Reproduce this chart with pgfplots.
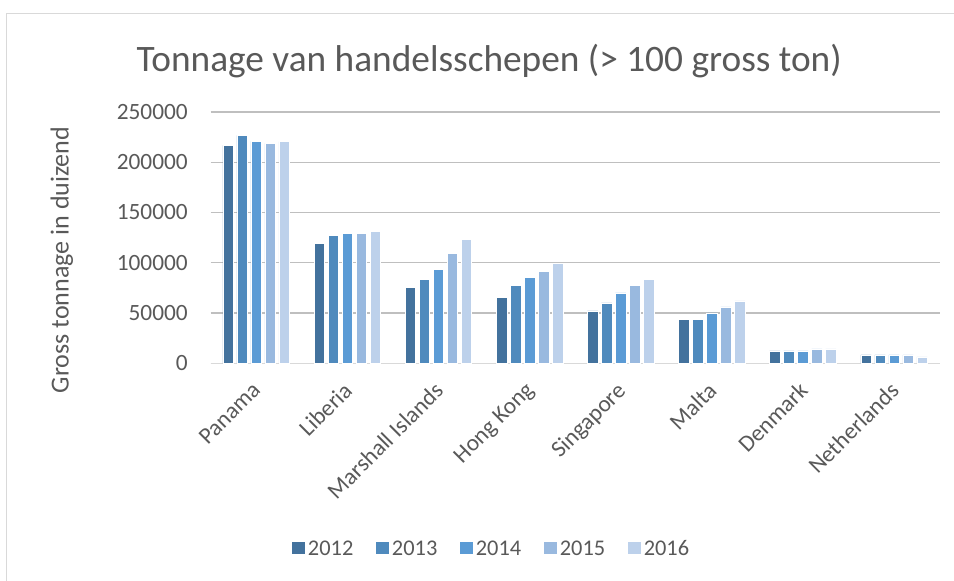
\documentclass[border=0pt]{standalone}
\usepackage{pgfplots}
\usepackage{pgfplotstable}
\usepackage{fontspec}
\setmainfont{Carlito}
\pgfplotsset{compat=1.18}

\definecolor{txt}{HTML}{595959}
\definecolor{grid}{HTML}{D9D9D9}
\definecolor{cA}{HTML}{43729D}
\definecolor{cB}{HTML}{4F8ABD}
\definecolor{cC}{HTML}{5B9BD5}
\definecolor{cD}{HTML}{99B9DF}
\definecolor{cE}{HTML}{BDD1EB}

% gross tonnage (x1000) per flag state
\pgfplotstableread{
x  a      b      c      d      e
0  216700 226700 220700 218700 220400
1  119500 127100 129100 129100 131100
2  75700  83700  93200  109600 123500
3  65700  77700  85700  91600  99600
4  52100  60100  70000  77700  83700
5  43800  43800  50100  56100  62100
6  12300  12300  12300  14300  14300
7  8300   8300   8300   8300   6300
}\tonnage

\begin{document}
\begin{tikzpicture}
\path[use as bounding box] (0pt,0pt) rectangle (715.5pt,435.75pt);
\draw[grid, line width=0.75pt] (4.5pt,-5pt) -- (4.5pt,425.25pt) -- (720pt,425.25pt);
\begin{axis}[
    at={(158pt,163.3pt)}, anchor=south west,
    scale only axis,
    width=546.75pt, height=188.5pt,
    ybar=2.6pt,
    bar width=7.9pt,
    xmin=-0.5, xmax=7.5,
    ymin=0, ymax=250000,
    ytick={0,50000,...,250000},
    scaled y ticks=false,
    /pgf/number format/assume math mode=true,
    /pgf/number format/.cd, fixed, set thousands separator={}, /pgfplots/.cd,
    xtick=data,
    xticklabels={Panama, Liberia, Marshall Islands, Hong Kong, Singapore, Malta, Denmark, Netherlands},
    major tick length=0pt,
    axis x line*=bottom,
    axis y line*=left,
    x axis line style={grid, line width=1pt},
    y axis line style={draw=none},
    ymajorgrids,
    xmajorgrids=false,
    grid style={grid, line width=0.9pt},
    tick label style={font=\fontsize{17.5}{20}\selectfont, text=txt},
    yticklabel style={inner sep=0pt, xshift=-17pt},
    xticklabel style={anchor=north east, inner sep=0pt, xshift=-4pt, yshift=-13pt, rotate=45},
    ylabel={Gross tonnage in duizend},
    ylabel style={at={(rel axis cs:-0.204,0.411)}, anchor=center, font=\fontsize{19.5}{22}\selectfont, text=txt},
    title={Tonnage van handelsschepen (> 100 gross ton)},
    title style={at={(rel axis cs:0.382,1.131)}, anchor=base, font=\fontsize{28}{32}\selectfont, text=txt},
    legend columns=5,
    legend style={at={(rel axis cs:0.385,-0.739)}, anchor=center, draw=none, fill=none,
        font=\fontsize{16.8}{20}\selectfont, text=txt,
        /tikz/every even column/.append style={column sep=14pt}},
    legend image code/.code={\fill[#1] (0pt,-4pt) rectangle (10.5pt,6pt);},
    every axis plot/.append style={draw=white, line width=0.4pt},
]
\addplot[fill=cA] table[x=x, y=a] {\tonnage};
\addplot[fill=cB] table[x=x, y=b] {\tonnage};
\addplot[fill=cC] table[x=x, y=c] {\tonnage};
\addplot[fill=cD] table[x=x, y=d] {\tonnage};
\addplot[fill=cE] table[x=x, y=e] {\tonnage};
\legend{2012, 2013, 2014, 2015, 2016}
\end{axis}
\end{tikzpicture}
\end{document}
